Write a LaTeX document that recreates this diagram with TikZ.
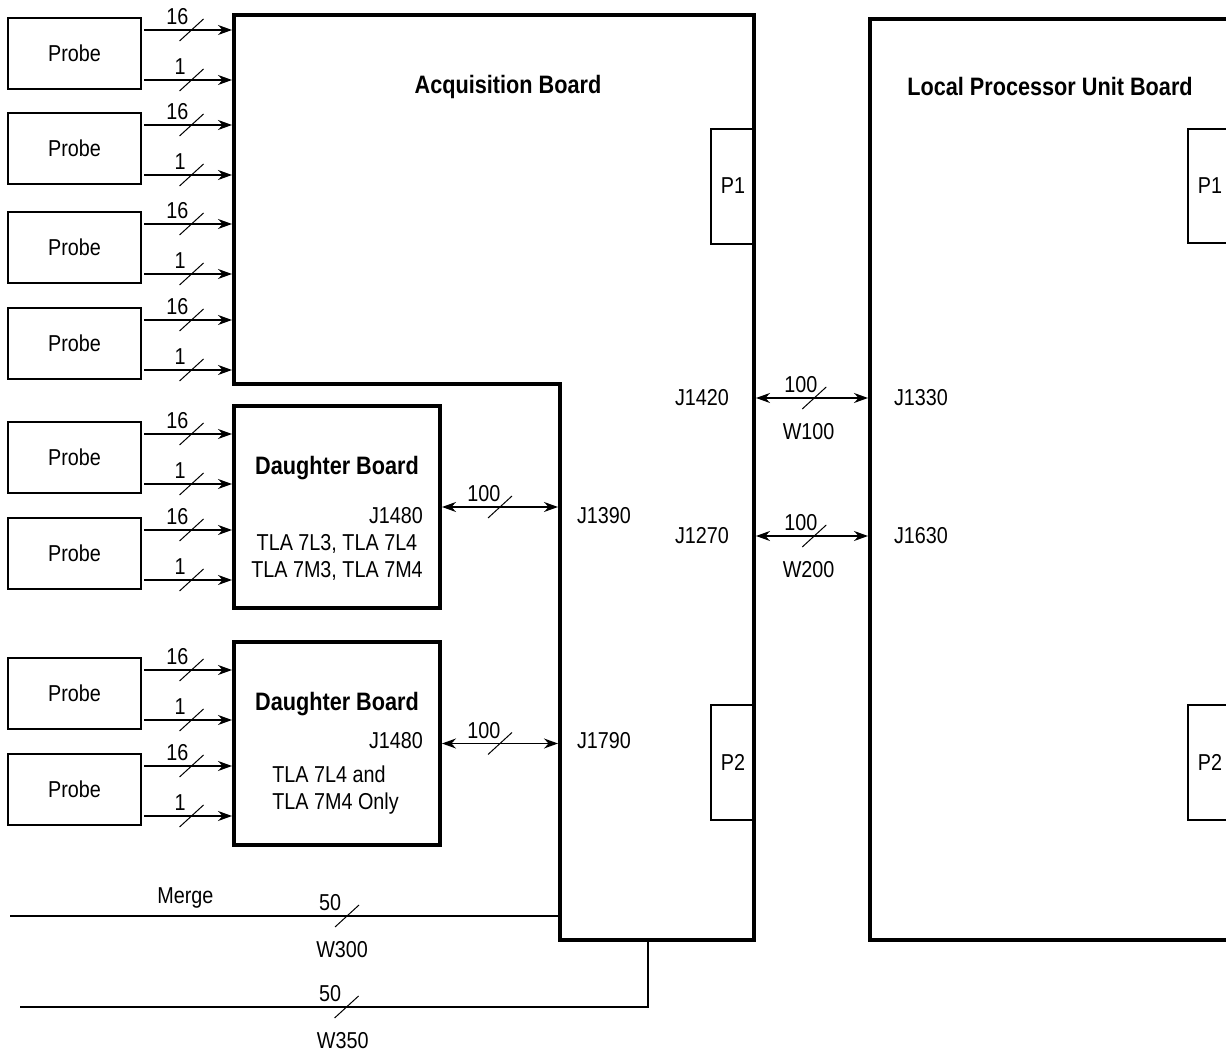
\documentclass[tikz,border=0pt]{standalone}
\usepackage{fontspec}
\setmainfont[FakeStretch=0.86]{Liberation Sans}
\usetikzlibrary{arrows.meta}
\newcommand\buscut[1]{\draw[cut] (#1) ++(-12,11) -- ++(24,-22);}
\begin{document}
\begin{tikzpicture}[x=0.5pt,y=-0.5pt,
    font=\fontsize{11.5}{13.5}\selectfont,
    board/.style={line width=2pt},
    probe/.style={draw,line width=1pt,minimum width=66.5pt,minimum height=35.5pt},
    dboard/.style={draw,line width=2pt,minimum width=103pt,minimum height=101pt},
    conn/.style={draw,line width=1pt},
    sig/.style={line width=.7pt,-{Stealth[length=7pt,width=5pt]}},
    bus/.style={line width=.7pt,{Stealth[length=7pt,width=5pt]}-{Stealth[length=7pt,width=5pt]}},
    cut/.style={line width=.5pt},
    num/.style={above,inner sep=2.2pt},
    wire/.style={below=9pt},
    title/.style={font=\fontsize{12.6}{14}\selectfont\bfseries},
    lines/.style={align=center}]
  \clip (0,0) rectangle (1226,1052);
  % boards
  \draw[board] (234,15) -- (754,15) -- (754,940) -- (560,940) -- (560,384) -- (234,384) -- cycle;
  \draw[board] (1240,19) -- (870,19) -- (870,940) -- (1240,940);
  \node[title] (acqT) at (508,87) {Acquisition Board};
  \node[title] (lpuT) at (1050,87) {Local Processor Unit Board};
  \draw[conn] (1240,129) -- (1188,129) -- (1188,243) -- (1240,243);
  \draw[conn] (1240,705) -- (1188,705) -- (1188,820) -- (1240,820);
  \draw[conn] (711,129) rectangle (754,244);
  \draw[conn] (711,705) rectangle (754,820);
  \node (ap1) at (733,186) {P1};
  \node (ap2) at (733,762) {P2};
  \node (lp1) at (1210,186) {P1};
  \node (lp2) at (1210,762) {P2};
  \coordinate (inL) at (232,0);
  \coordinate (inM) at (558,0);
  \coordinate (acqR) at (756,0);
  \coordinate (lpuL) at (868,0);
  \coordinate (acqB) at (0,942);
  % daughter boards
  \node[dboard] (db1) at (337,507) {};
  \node[dboard] (db2) at (337,743.5) {};
  \node[title] (db1T) at (337,468) {Daughter Board};
  \node[title] (db2T) at (337,704) {Daughter Board};
  \node[anchor=east] (db1J) at (430,516) {J1480};
  \node[anchor=east] (db2J) at (430,741) {J1480};
  \node[lines] (db1L) at (337,557.5) {TLA 7L3, TLA 7L4\\TLA 7M3, TLA 7M4};
  \node[lines,align=left] (db2L) at (335.5,790.5) {TLA 7L4 and\\TLA 7M4 Only};
  % probes
  \foreach \i/\y in {1/53.5,2/148.5,3/247.5,4/343.5,5/457.5,6/553.5,7/693.5,8/789.5} {
    \node[probe] (pr\i) at (74.5,\y) {Probe};
    \path (pr\i.east) ++(2,-23.5) coordinate (pa\i);
    \path (pr\i.east) ++(2,26.5) coordinate (pb\i);
    \draw[sig] (pa\i) -- (pa\i -| inL) coordinate[pos=.54] (c) node[pos=.38,num] {16};
    \buscut{c}
    \draw[sig] (pb\i) -- (pb\i -| inL) coordinate[pos=.54] (c) node[pos=.41,num] {1};
    \buscut{c}
  }
  % buses
  \draw[bus] (db1.east) -- (db1.east -| inM) coordinate[pos=.5] (c) node[pos=.36,num] {100};
  \buscut{c}
  \draw[bus] (db2.east) -- (db2.east -| inM) coordinate[pos=.5] (c) node[pos=.36,num] {100};
  \buscut{c}
  \node (j1390) at (604,516) {J1390};
  \node (j1790) at (604,741) {J1790};
  \coordinate (w1) at (0,398);
  \coordinate (w2) at (0,536);
  \draw[bus] (w1 -| acqR) -- (w1 -| lpuL) coordinate[pos=.52] (c)
    node[pos=.4,num] {100} node[pos=.47,wire] {W100};
  \buscut{c}
  \draw[bus] (w2 -| acqR) -- (w2 -| lpuL) coordinate[pos=.52] (c)
    node[pos=.4,num] {100} node[pos=.47,wire] {W200};
  \buscut{c}
  \node (j1420) at (702,398) {J1420};
  \node (j1330) at (921,398) {J1330};
  \node (j1270) at (702,536) {J1270};
  \node (j1630) at (921,536) {J1630};
  % merge cables
  \coordinate (m0) at (10,916);
  \draw[line width=.6pt] (m0) -- (m0 -| inM) coordinate[pos=.615] (c)
    node[pos=.32,above] {Merge} node[pos=.584,num] {50} node[pos=.606,wire] {W300};
  \buscut{c}
  \coordinate (m1) at (20,1007);
  \coordinate (m2) at (648,1007);
  \draw[line width=.6pt] (m1) -- coordinate[pos=.52] (c)
    node[pos=.494,num] {50} node[pos=.514,wire] {W350} (m2) -- (m2 |- acqB);
  \buscut{c}
\end{tikzpicture}
\end{document}
